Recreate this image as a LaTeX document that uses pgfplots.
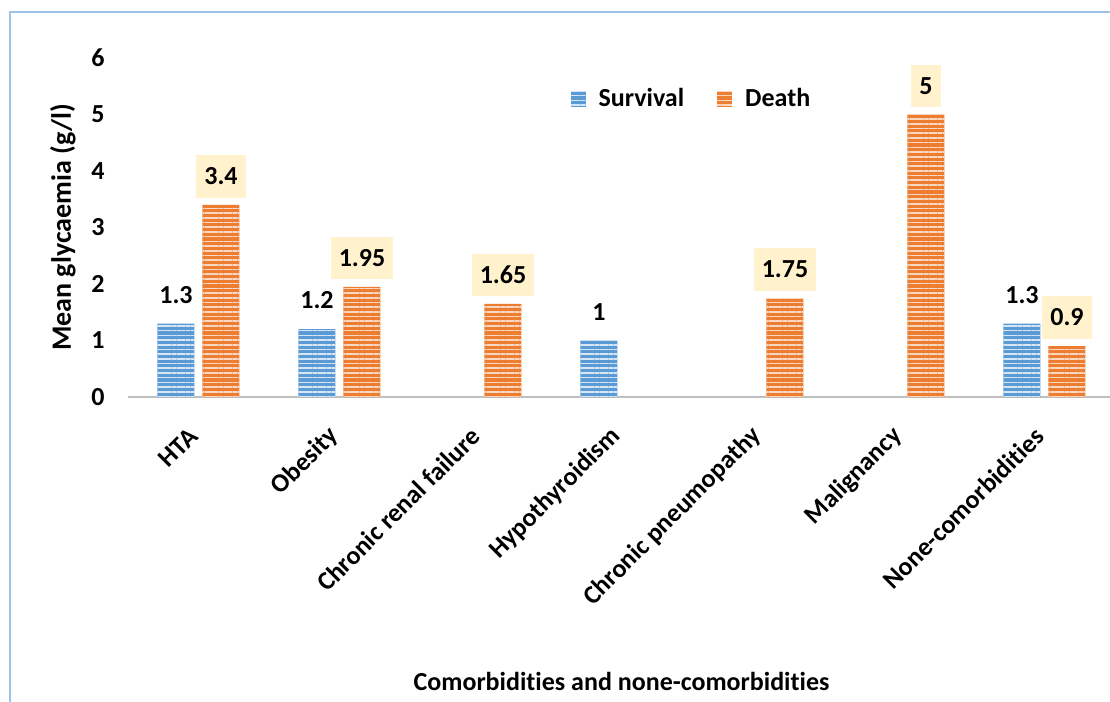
\documentclass[border=0pt]{standalone}
\usepackage{pgfplots}
\pgfplotsset{compat=1.18}
\usepackage{fontspec}
\setmainfont{Carlito}[Ligatures={NoCommon}]
\usetikzlibrary{patterns.meta}
\definecolor{survblue}{HTML}{5B9BD5}
\definecolor{deathorange}{HTML}{ED7D31}
\definecolor{cream}{HTML}{FFF2CC}
\definecolor{framecol}{HTML}{9DC3E6}
\definecolor{basegray}{HTML}{BFBFBF}
\newcommand{\lblfont}{\fontsize{13}{15.5}\selectfont\bfseries}
\newcommand{\ylblfont}{\fontsize{14}{17}\selectfont\bfseries}
\begin{document}
\begin{tikzpicture}
\useasboundingbox (-64pt,-152.5pt) rectangle (491pt,198.5pt);
\draw[framecol, line width=1pt] (-59pt,-160pt) -- (-59pt,192.5pt) -- (500pt,192.5pt);
\begin{axis}[
  scale only axis,
  width=493.5pt, height=169.5pt,
  xmin=-0.5, xmax=6.5, ymin=0, ymax=6,
  ybar=4pt, bar width=18.5pt,
  axis lines*=left,
  y axis line style={draw=none},
  x axis line style={draw=basegray, line width=1.2pt, -},
  major tick length=0pt,
  xtick={0,...,6},
  xticklabels={HTA, Obesity, Chronic renal failure, Hypothyroidism, Chronic pneumopathy, Malignancy, None-comorbidities},
  ytick={0,...,6},
  /pgf/number format/assume math mode=true,
  tick label style={font=\lblfont},
  xticklabel style={xshift=-2.5pt, yshift=-17.5pt, rotate=45, anchor=east, inner sep=0pt},
  yticklabel style={anchor=east, inner sep=0pt, xshift=-11.5pt},
  xlabel={Comorbidities and none-comorbidities},
  ylabel={Mean glycaemia (g/l)},
  every axis x label/.style={at={(rel axis cs:0.5,-0.838)}, anchor=center, font=\lblfont},
  every axis y label/.style={at={(rel axis cs:-0.0659,0.5)}, rotate=90, anchor=center, font=\ylblfont},
  legend style={at={(rel axis cs:0.442,0.879)}, anchor=west, draw=none, fill=none,
    legend columns=2, font=\lblfont,
    /tikz/every even column/.append style={column sep=14.5pt}},
  legend image code/.code={\path[#1] (0pt,-4pt) rectangle (7.5pt,4pt); \path (12pt,0pt);},
  every node near coord/.append style={font=\lblfont, anchor=south, inner xsep=4pt, inner ysep=6.5pt, text height=8.2pt, text depth=0pt, yshift=3.5pt, text=black},
]
\addplot[fill=survblue, draw=none,
  postaction={pattern={Lines[angle=0,distance=2.35pt,line width=0.8pt]}, pattern color=white!75!survblue},
  nodes near coords] coordinates {(0,1.3) (1,1.2) (3,1) (6,1.3)};
\addlegendentry{Survival}
\addplot[fill=deathorange, draw=none,
  postaction={pattern={Lines[angle=0,distance=2.35pt,line width=0.8pt]}, pattern color=white!70!deathorange},
  nodes near coords, nodes near coords style={fill=cream}] coordinates {(0,3.4) (1,1.95) (2,1.65) (4,1.75) (5,5) (6,0.9)};
\addlegendentry{Death}
\end{axis}
\end{tikzpicture}
\end{document}
